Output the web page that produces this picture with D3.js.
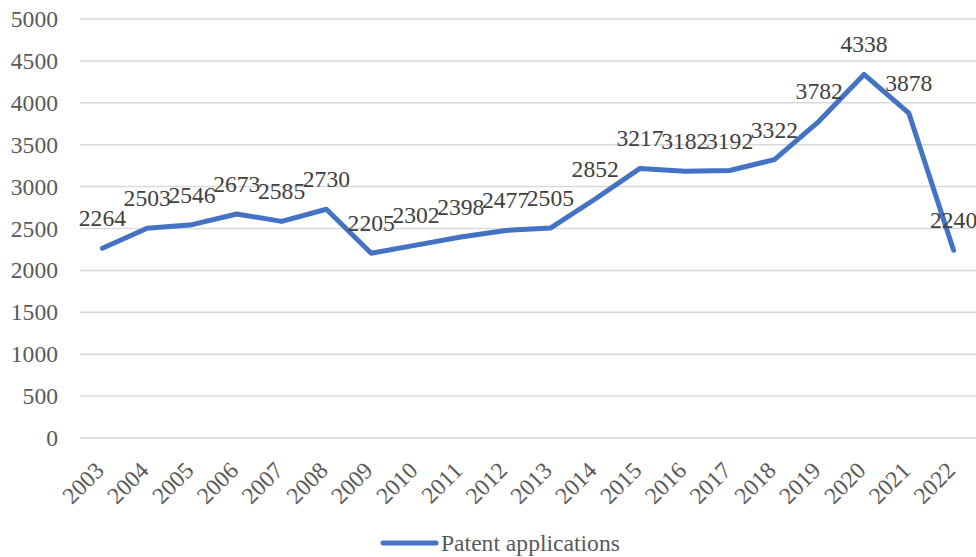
<!DOCTYPE html>
<html><head><meta charset="utf-8">
<script src="https://cdn.jsdelivr.net/npm/d3@7"></script>
</head>
<body style="margin:0;background:#fff">
<svg id="chart" width="976" height="557"></svg>
<script>
const years = ["2003","2004","2005","2006","2007","2008","2009","2010","2011","2012","2013","2014","2015","2016","2017","2018","2019","2020","2021","2022"];
const applications = [2264,2503,2546,2673,2585,2730,2205,2302,2398,2477,2505,2852,3217,3182,3192,3322,3782,4338,3878,2240];
const yTicks = [0,500,1000,1500,2000,2500,3000,3500,4000,4500,5000];
const seriesName = "Patent applications";

const FONT = "Liberation Serif";
const FS = 23.6;
const svg = d3.select("#chart");
const margin = {left:80, right:0, top:19, bottom:119};
const W = 976, H = 557;
const x = d3.scaleBand().domain(years).range([margin.left, W - margin.right]);
const y = d3.scaleLinear().domain([0,5000]).range([H - margin.bottom, margin.top]);

// gridlines
svg.append("g").selectAll("line").data(yTicks).join("line")
  .attr("x1", margin.left).attr("x2", W)
  .attr("y1", d=>y(d)).attr("y2", d=>y(d))
  .attr("stroke","#d9d9d9").attr("stroke-width",1.5);

// y axis labels
const yAxis = d3.axisLeft(y).tickValues(yTicks).tickFormat(d3.format("d")).tickSize(0).tickPadding(0);
const yg = svg.append("g").attr("transform",`translate(58,0)`).call(yAxis).attr("font-family",FONT);
yg.select(".domain").remove();
yg.selectAll("text").attr("font-family",FONT).attr("font-size",FS).attr("fill","#595959").attr("dy","0.32em");

// x axis labels
const xAxis = d3.axisBottom(x).tickSize(0).tickPadding(0);
const xg = svg.append("g").attr("transform",`translate(0,${y(0)})`).call(xAxis).attr("font-family",FONT);
xg.select(".domain").remove();
xg.selectAll("text")
  .attr("font-family",FONT).attr("font-size",FS).attr("fill","#595959")
  .attr("text-anchor","end").attr("dy",0).attr("y",0)
  .attr("transform","translate(3,34) rotate(-45)");

// line
const line = d3.line().x((d,i)=>x(years[i]) + x.bandwidth()/2).y(d=>y(d));
svg.append("path").datum(applications)
  .attr("d", line).attr("fill","none")
  .attr("stroke","#4472C4").attr("stroke-width",5)
  .attr("stroke-linejoin","round").attr("stroke-linecap","round");

// data labels
svg.append("g").selectAll("text").data(applications).join("text")
  .attr("x",(d,i)=>x(years[i]) + x.bandwidth()/2)
  .attr("y",d=>y(d) - 22)
  .attr("text-anchor","middle")
  .attr("font-family",FONT).attr("font-size",FS).attr("fill","#404040")
  .text(d=>d);

// legend
const lg = svg.append("g");
lg.append("line").attr("x1",383).attr("x2",436).attr("y1",543).attr("y2",543)
  .attr("stroke","#4472C4").attr("stroke-width",5).attr("stroke-linecap","round");
lg.append("text").attr("x",441).attr("y",543).attr("dy","0.32em")
  .attr("font-family",FONT).attr("font-size",FS).attr("fill","#595959").text(seriesName);
</script>
</body></html>
